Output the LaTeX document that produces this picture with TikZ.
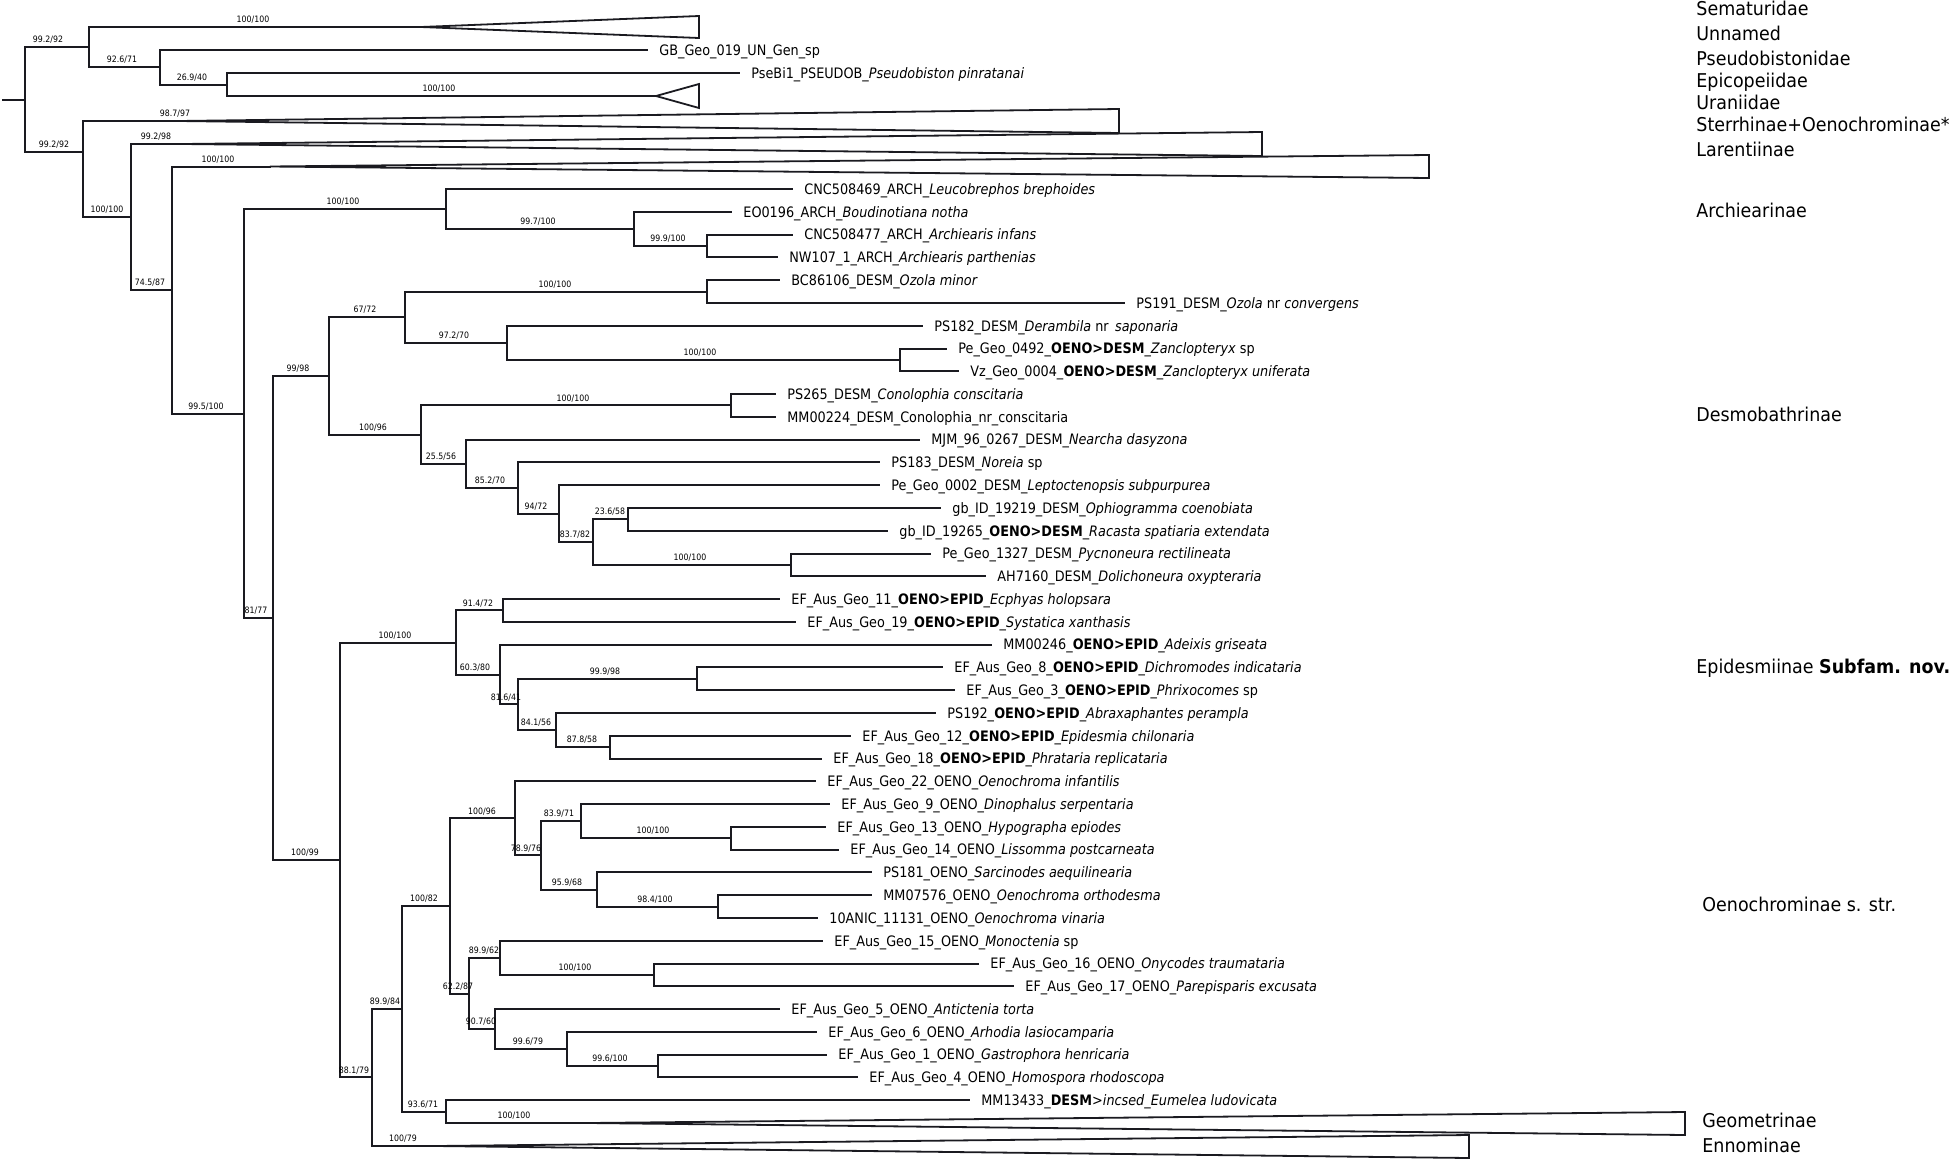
\documentclass[tikz,border=0pt]{standalone}
\usepackage{fontspec}
\setmainfont{DejaVu Sans}
\newfontfamily\tipfont[FakeStretch=0.89,WordSpace=0.7]{DejaVu Sans}
\newfontfamily\supfont[FakeStretch=0.89]{DejaVu Sans}
\newfontfamily\grpfont[FakeStretch=0.92]{DejaVu Sans}
\definecolor{ln}{RGB}{26,26,32}
\tikzset{
  br/.style={draw=ln, line width=1pt, line join=miter, line cap=rect},
  tri/.style={draw=ln, line width=0.9pt, fill=white, line join=miter},
  tip/.style={anchor=west, inner xsep=6pt, inner ysep=0pt, text height=5.3pt, text depth=0pt,
              font=\tipfont\fontsize{7.2}{8}\selectfont, text=black},
  sup/.style={anchor=base, inner sep=0pt, yshift=2.2pt, font=\supfont\fontsize{4.4}{5}\selectfont, text=black},
  grp/.style={anchor=west, inner sep=0pt, text height=6.9pt, text depth=0pt,
              font=\grpfont\fontsize{9.5}{11}\selectfont, text=black},
}
\newcommand\bracketto[3]{\draw[br] (#2) -- (#1 |- #2) -- (#1 |- #3) -- (#3);}
\newcommand\supl[3]{\node[sup] at (#1,#2) {#3};}
\begin{document}
\begin{tikzpicture}[x=0.5pt,y=-0.5pt]
\useasboundingbox (0,0) rectangle (1960,1162);

% ---------- internal nodes ----------
\coordinate (stub) at (3,100);
\coordinate (nR) at (24.5,100);
\coordinate (nA) at (89,47.1);
\coordinate (nB) at (160,67.25);
\coordinate (nC) at (227,84.5);
\coordinate (nD) at (83,152);
\coordinate (nE) at (131,217);
\coordinate (nF) at (172,290);
\coordinate (nG) at (244,413.5);
\coordinate (aSema) at (421,27);
\coordinate (aEpi) at (656,96);
\coordinate (aT1) at (179,121);
\coordinate (aT2) at (183,144);
\coordinate (aT3) at (270,166.5);
\coordinate (aGeo) at (589,1123);
\coordinate (aEnn) at (436,1146);

\coordinate (nArch) at (446,209.0);
\coordinate (nI) at (634,228.9);
\coordinate (nJ) at (707,246.0);
\coordinate (nH) at (273,618.0);
\coordinate (nK) at (329,375.9);
\coordinate (nM) at (405,317.2);
\coordinate (nOz) at (707,291.5);
\coordinate (nN) at (507,342.8);
\coordinate (nO) at (900,359.9);
\coordinate (nP) at (421,434.6);
\coordinate (nQ) at (731,405.4);
\coordinate (nRb) at (466,463.8);
\coordinate (nS) at (518,488.0);
\coordinate (nT) at (559,513.6);
\coordinate (nU) at (593,542.1);
\coordinate (nV) at (628,519.3);
\coordinate (nW) at (791,564.9);
\coordinate (nL) at (340,860.0);
\coordinate (nX) at (456,642.5);
\coordinate (nY) at (503,610.4);
\coordinate (nZ) at (500,674.5);
\coordinate (nAA) at (518,704.4);
\coordinate (nAB) at (697,678.8);
\coordinate (nAC) at (556,730.0);
\coordinate (nAD) at (610,747.1);
\coordinate (nAE) at (372,1077.4);
\coordinate (nAF) at (402,1008.8);
\coordinate (nAG) at (450,906.0);
\coordinate (nAH) at (515,818.4);
\coordinate (nAI) at (541,855.4);
\coordinate (nAJ) at (581,821.2);
\coordinate (nAK) at (731,838.2);
\coordinate (nAL) at (597,889.5);
\coordinate (nAM) at (718,906.6);
\coordinate (nAN) at (469,993.5);
\coordinate (nAO) at (500,957.8);
\coordinate (nAP) at (654,974.9);
\coordinate (nAQ) at (495,1029.1);
\coordinate (nAR) at (567,1049.0);
\coordinate (nAS) at (658,1066.0);
\coordinate (nAT) at (446,1111.6);

% ---------- tips ----------
\node[tip] (tGB) at (647,50) {GB\_Geo\_019\_UN\_Gen\_sp};
\node[tip] (tPse) at (739,73) {PseBi1\_PSEUDOB\_\textit{Pseudobiston pinratanai}};
\node[tip] (t0) at (792,189.0) {CNC508469\_ARCH\_\textit{Leucobrephos brephoides}};
\node[tip] (t1) at (731,211.8) {EO0196\_ARCH\_\textit{Boudinotiana notha}};
\node[tip] (t2) at (792,234.6) {CNC508477\_ARCH\_\textit{Archiearis infans}};
\node[tip] (t3) at (777,257.3) {NW107\_1\_ARCH\_\textit{Archiearis parthenias}};
\node[tip] (t4) at (779,280.1) {BC86106\_DESM\_\textit{Ozola minor}};
\node[tip] (t5) at (1124,302.9) {PS191\_DESM\_\textit{Ozola} nr \textit{convergens}};
\node[tip] (t6) at (922,325.7) {PS182\_DESM\_\textit{Derambila} nr\, \textit{saponaria}};
\node[tip] (t7) at (946,348.5) {Pe\_Geo\_0492\_\textbf{OENO>DESM}\_\textit{Zanclopteryx} sp};
\node[tip] (t8) at (958,371.2) {Vz\_Geo\_0004\_\textbf{OENO>DESM}\_\textit{Zanclopteryx uniferata}};
\node[tip] (t9) at (775,394.0) {PS265\_DESM\_\textit{Conolophia conscitaria}};
\node[tip] (t10) at (775,416.8) {MM00224\_DESM\_Conolophia\_nr\_conscitaria};
\node[tip] (t11) at (919,439.6) {MJM\_96\_0267\_DESM\_\textit{Nearcha dasyzona}};
\node[tip] (t12) at (879,462.4) {PS183\_DESM\_\textit{Noreia} sp};
\node[tip] (t13) at (879,485.1) {Pe\_Geo\_0002\_DESM\_\textit{Leptoctenopsis subpurpurea}};
\node[tip] (t14) at (940,507.9) {gb\_ID\_19219\_DESM\_\textit{Ophiogramma coenobiata}};
\node[tip] (t15) at (887,530.7) {gb\_ID\_19265\_\textbf{OENO>DESM}\_\textit{Racasta spatiaria extendata}};
\node[tip] (t16) at (930,553.5) {Pe\_Geo\_1327\_DESM\_\textit{Pycnoneura rectilineata}};
\node[tip] (t17) at (985,576.3) {AH7160\_DESM\_\textit{Dolichoneura oxypteraria}};
\node[tip] (t18) at (779,599.0) {EF\_Aus\_Geo\_11\_\textbf{OENO>EPID}\_\textit{Ecphyas holopsara}};
\node[tip] (t19) at (795,621.8) {EF\_Aus\_Geo\_19\_\textbf{OENO>EPID}\_\textit{Systatica xanthasis}};
\node[tip] (t20) at (991,644.6) {MM00246\_\textbf{OENO>EPID}\_\textit{Adeixis griseata}};
\node[tip] (t21) at (942,667.4) {EF\_Aus\_Geo\_8\_\textbf{OENO>EPID}\_\textit{Dichromodes indicataria}};
\node[tip] (t22) at (954,690.2) {EF\_Aus\_Geo\_3\_\textbf{OENO>EPID}\_\textit{Phrixocomes} sp};
\node[tip] (t23) at (935,712.9) {PS192\_\textbf{OENO>EPID}\_\textit{Abraxaphantes perampla}};
\node[tip] (t24) at (850,735.7) {EF\_Aus\_Geo\_12\_\textbf{OENO>EPID}\_\textit{Epidesmia chilonaria}};
\node[tip] (t25) at (821,758.5) {EF\_Aus\_Geo\_18\_\textbf{OENO>EPID}\_\textit{Phrataria replicataria}};
\node[tip] (t26) at (815,781.3) {EF\_Aus\_Geo\_22\_OENO\_\textit{Oenochroma infantilis}};
\node[tip] (t27) at (829,804.1) {EF\_Aus\_Geo\_9\_OENO\_\textit{Dinophalus serpentaria}};
\node[tip] (t28) at (825,826.8) {EF\_Aus\_Geo\_13\_OENO\_\textit{Hypographa epiodes}};
\node[tip] (t29) at (838,849.6) {EF\_Aus\_Geo\_14\_OENO\_\textit{Lissomma postcarneata}};
\node[tip] (t30) at (871,872.4) {PS181\_OENO\_\textit{Sarcinodes aequilinearia}};
\node[tip] (t31) at (871,895.2) {MM07576\_OENO\_\textit{Oenochroma orthodesma}};
\node[tip] (t32) at (817,918.0) {10ANIC\_11131\_OENO\_\textit{Oenochroma vinaria}};
\node[tip] (t33) at (822,940.7) {EF\_Aus\_Geo\_15\_OENO\_\textit{Monoctenia} sp};
\node[tip] (t34) at (978,963.5) {EF\_Aus\_Geo\_16\_OENO\_\textit{Onycodes traumataria}};
\node[tip] (t35) at (1013,986.3) {EF\_Aus\_Geo\_17\_OENO\_\textit{Parepisparis excusata}};
\node[tip] (t36) at (779,1009.1) {EF\_Aus\_Geo\_5\_OENO\_\textit{Antictenia torta}};
\node[tip] (t37) at (816,1031.9) {EF\_Aus\_Geo\_6\_OENO\_\textit{Arhodia lasiocamparia}};
\node[tip] (t38) at (826,1054.6) {EF\_Aus\_Geo\_1\_OENO\_\textit{Gastrophora henricaria}};
\node[tip] (t39) at (857,1077.4) {EF\_Aus\_Geo\_4\_OENO\_\textit{Homospora rhodoscopa}};
\node[tip] (t40) at (969,1100.2) {MM13433\_\textbf{DESM}>\textit{incsed\_Eumelea ludovicata}};

% ---------- branches ----------
\draw[br] (stub) -- (nR);
\bracketto{nR}{nA}{nD}
\bracketto{nA}{aSema}{nB}
\bracketto{nB}{tGB.west}{nC}
\bracketto{nC}{tPse.west}{aEpi}
\bracketto{nD}{aT1}{nE}
\bracketto{nE}{aT2}{nF}
\bracketto{nF}{aT3}{nG}
\bracketto{nG}{nArch}{nH}
\bracketto{nArch}{t0.west}{nI}
\bracketto{nI}{t1.west}{nJ}
\bracketto{nJ}{t2.west}{t3.west}
\bracketto{nH}{nK}{nL}
\bracketto{nK}{nM}{nP}
\bracketto{nM}{nOz}{nN}
\bracketto{nOz}{t4.west}{t5.west}
\bracketto{nN}{t6.west}{nO}
\bracketto{nO}{t7.west}{t8.west}
\bracketto{nP}{nQ}{nRb}
\bracketto{nQ}{t9.west}{t10.west}
\bracketto{nRb}{t11.west}{nS}
\bracketto{nS}{t12.west}{nT}
\bracketto{nT}{t13.west}{nU}
\bracketto{nU}{nV}{nW}
\bracketto{nV}{t14.west}{t15.west}
\bracketto{nW}{t16.west}{t17.west}
\bracketto{nL}{nX}{nAE}
\bracketto{nX}{nY}{nZ}
\bracketto{nY}{t18.west}{t19.west}
\bracketto{nZ}{t20.west}{nAA}
\bracketto{nAA}{nAB}{nAC}
\bracketto{nAB}{t21.west}{t22.west}
\bracketto{nAC}{t23.west}{nAD}
\bracketto{nAD}{t24.west}{t25.west}
\bracketto{nAE}{nAF}{aEnn}
\bracketto{nAF}{nAG}{nAT}
\bracketto{nAG}{nAH}{nAN}
\bracketto{nAH}{t26.west}{nAI}
\bracketto{nAI}{nAJ}{nAL}
\bracketto{nAJ}{t27.west}{nAK}
\bracketto{nAK}{t28.west}{t29.west}
\bracketto{nAL}{t30.west}{nAM}
\bracketto{nAM}{t31.west}{t32.west}
\bracketto{nAN}{nAO}{nAQ}
\bracketto{nAO}{t33.west}{nAP}
\bracketto{nAP}{t34.west}{t35.west}
\bracketto{nAQ}{t36.west}{nAR}
\bracketto{nAR}{t37.west}{nAS}
\bracketto{nAS}{t38.west}{t39.west}
\bracketto{nAT}{t40.west}{aGeo}

% ---------- collapsed clades ----------
\draw[tri] (aSema) -- (699,16) -- (699,38) -- cycle;
\draw[tri] (aEpi) -- (699,84) -- (699,108) -- cycle;
\draw[tri] (aT1) -- (1119,109) -- (1119,133) -- cycle;
\draw[tri] (aT2) -- (1262,132) -- (1262,156) -- cycle;
\draw[tri] (aT3) -- (1429,155) -- (1429,178) -- cycle;
\draw[tri] (aGeo) -- (1685,1112) -- (1685,1135) -- cycle;
\draw[tri] (aEnn) -- (1469,1135) -- (1469,1158) -- cycle;

% ---------- support values ----------
\supl{48}{47.1}{99.2/92}
\supl{253}{27}{100/100}
\supl{122}{67.25}{92.6/71}
\supl{192}{84.5}{26.9/40}
\supl{439}{96}{100/100}
\supl{54}{152}{99.2/92}
\supl{175}{121}{98.7/97}
\supl{107}{217}{100/100}
\supl{156}{144}{99.2/98}
\supl{150}{290}{74.5/87}
\supl{218}{166.5}{100/100}
\supl{206}{413.5}{99.5/100}
\supl{343}{209}{100/100}
\supl{538}{228.9}{99.7/100}
\supl{668}{246}{99.9/100}
\supl{256}{618}{81/77}
\supl{298}{375.9}{99/98}
\supl{365}{317.2}{67/72}
\supl{555}{291.5}{100/100}
\supl{454}{342.8}{97.2/70}
\supl{700}{359.9}{100/100}
\supl{373}{434.6}{100/96}
\supl{573}{405.4}{100/100}
\supl{441}{463.8}{25.5/56}
\supl{490}{488}{85.2/70}
\supl{536}{513.6}{94/72}
\supl{575}{542.1}{83.7/82}
\supl{610}{519.3}{23.6/58}
\supl{690}{564.9}{100/100}
\supl{305}{860}{100/99}
\supl{395}{642.5}{100/100}
\supl{478}{610.4}{91.4/72}
\supl{475}{674.5}{60.3/80}
\supl{506}{704.4}{81.6/41}
\supl{605}{678.8}{99.9/98}
\supl{536}{730}{84.1/56}
\supl{582}{747.1}{87.8/58}
\supl{354}{1077.4}{88.1/79}
\supl{385}{1008.8}{89.9/84}
\supl{424}{906}{100/82}
\supl{482}{818.4}{100/96}
\supl{526}{855.4}{78.9/76}
\supl{559}{821.2}{83.9/71}
\supl{653}{838.2}{100/100}
\supl{567}{889.5}{95.9/68}
\supl{655}{906.6}{98.4/100}
\supl{458}{993.5}{62.2/87}
\supl{484}{957.8}{89.9/62}
\supl{575}{974.9}{100/100}
\supl{481}{1029.1}{90.7/60}
\supl{528}{1049}{99.6/79}
\supl{610}{1066}{99.6/100}
\supl{423}{1111.6}{93.6/71}
\supl{514}{1123}{100/100}
\supl{403}{1146}{100/79}

% ---------- group labels ----------
\node[grp] (g1) at (1696,9) {Sematuridae};
\node[grp] (g2) at (1696,34) {Unnamed};
\node[grp] (g3) at (1696,59) {Pseudobistonidae};
\node[grp] (g4) at (1696,81) {Epicopeiidae};
\node[grp] (g5) at (1696,103) {Uraniidae};
\node[grp] (g6) at (1696,125) {Sterrhinae+Oenochrominae*};
\node[grp] (g7) at (1696,150) {Larentiinae};
\node[grp] (g8) at (1696,211) {Archiearinae};
\node[grp] (g9) at (1696,415) {Desmobathrinae};
\node[grp] (g10) at (1696,667) {Epidesmiinae \textbf{Subfam. nov.}};
\node[grp] (g11) at (1702,905) {Oenochrominae s. str.};
\node[grp] (g12) at (1702,1121) {Geometrinae};
\node[grp] (g13) at (1702,1146) {Ennominae};
\end{tikzpicture}
\end{document}
